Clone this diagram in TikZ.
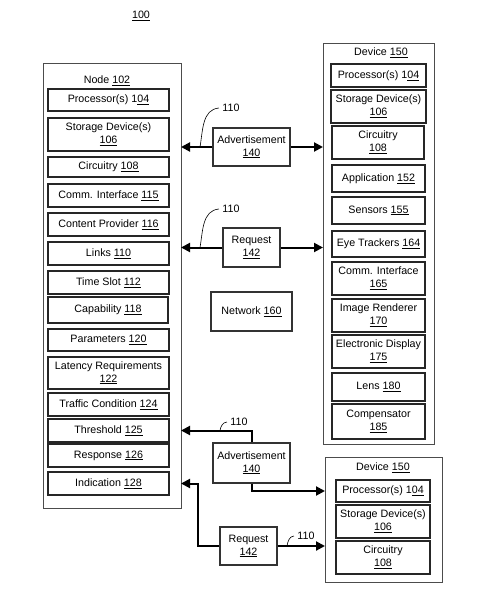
\documentclass[tikz,border=0pt]{standalone}
\usepackage{fontspec}
\setmainfont{Liberation Sans}
\usetikzlibrary{arrows.meta}

\begin{document}
\begin{tikzpicture}[x=1bp,y=1bp,
		font=\fontsize{10.7bp}{12.7bp}\selectfont,
		outer/.style={draw=black!70, line width=1bp},
		inbox/.style={draw=black!85, line width=1.1bp, inner sep=0pt, align=center},
		lbox/.style={inbox, minimum width=121bp},
		rbox/.style={inbox, minimum width=95bp},
		msg/.style={inbox, draw=black!80},
		link/.style={line width=2bp, -{Triangle[length=9bp,width=9bp]}},
		callout/.style={line width=0.6bp}]
		\useasboundingbox (0,0) rectangle (496,-598);
		\node (title) at (141,-16) {\underline{100}};
		% node 102
		\draw [outer] (43,-64) rectangle (181,-508);
		\coordinate (nodeE) at (181,-286);
		\node (nodelbl) at (107,-81) {Node \underline{102}};
		\node [lbox, minimum height=22bp] (n104) at (108.5,-100) {Processor(s) 1\underline{04}};
		\node [lbox, minimum height=33bp] (n106) at (108.5,-134.5) {Storage Device(s)\\\underline{106}};
		\node [lbox, minimum height=20bp] (n108) at (108.5,-167) {Circuitry \underline{108}};
		\node [lbox, minimum height=23bp] (n115) at (108.5,-195.5) {Comm. Interface \underline{115}};
		\node [lbox, minimum height=23bp] (n116) at (108.5,-224.5) {Content Provider \underline{116}};
		\node [lbox, minimum height=23bp] (n110) at (108.5,-253.5) {Links \underline{110}};
		\node [lbox, minimum height=23bp] (n112) at (108.5,-282.5) {Time Slot \underline{112}};
		\node [lbox, minimum height=26bp, minimum width=120bp] (n118) at (108,-310) {Capability \underline{118}};
		\node [lbox, minimum height=22bp] (n120) at (108.5,-340) {Parameters \underline{120}};
		\node [lbox, minimum height=32bp] (n122) at (108.5,-373) {Latency Requirements\\\underline{122}};
		\node [lbox, minimum height=23bp] (n124) at (108.5,-404.5) {Traffic Condition \underline{124}};
		\node [lbox, minimum height=23bp] (n125) at (108.5,-430.5) {Threshold \underline{125}};
		\node [lbox, minimum height=23bp] (n126) at (108.5,-455.5) {Response \underline{126}};
		\node [lbox, minimum height=23bp] (n128) at (108.5,-483.5) {Indication \underline{128}};
		% device 150, top
		\draw [outer] (323,-44) rectangle (434,-444);
		\coordinate (devW) at (323,-244);
		\node (devlbl) at (381,-53) {Device \underline{150}};
		\node [rbox, minimum height=23bp] (d104) at (378.5,-75.5) {Processor(s) 1\underline{04}};
		\node [rbox, minimum height=33bp] (d106) at (378.5,-106.5) {Storage Device(s)\\\underline{106}};
		\node [rbox, minimum height=33bp, minimum width=92bp] (d108) at (378,-142.5) {Circuitry\\\underline{108}};
		\node [rbox, minimum height=27bp, minimum width=93bp] (d152) at (378.5,-178.5) {Application \underline{152}};
		\node [rbox, minimum height=27bp, minimum width=93bp] (d155) at (378.5,-210.5) {Sensors \underline{155}};
		\node [rbox, minimum height=26bp, minimum width=93bp] (d164) at (378.5,-244) {Eye Trackers \underline{164}};
		\node [rbox, minimum height=33bp, minimum width=93bp] (d165) at (378.5,-278.5) {Comm. Interface\\\underline{165}};
		\node [rbox, minimum height=33bp, minimum width=93bp] (d170) at (378.5,-315.5) {Image Renderer\\\underline{170}};
		\node [rbox, minimum height=33bp, minimum width=93bp] (d175) at (378.5,-351.5) {Electronic Display\\\underline{175}};
		\node [rbox, minimum height=28bp, minimum width=93bp] (d180) at (378.5,-387) {Lens \underline{180}};
		\node [rbox, minimum height=35bp, minimum width=93bp] (d185) at (378.5,-421.5) {Compensator\\\underline{185}};
		% device 150, bottom
		\draw [outer] (325,-457) rectangle (442,-582);
		\coordinate (dev2W) at (325,-520);
		\node (dev2lbl) at (383,-468) {Device \underline{150}};
		\node [rbox, minimum height=22bp, minimum width=94bp] (e104) at (383,-491) {Processor(s) 1\underline{04}};
		\node [rbox, minimum height=33bp, minimum width=94bp] (e106) at (383,-521.5) {Storage Device(s)\\\underline{106}};
		\node [rbox, minimum height=33bp, minimum width=94bp] (e108) at (383,-557.5) {Circuitry\\\underline{108}};
		% messages
		\node [msg, minimum width=77bp, minimum height=38bp] (adv1) at (251.5,-147) {Advertisement\\\underline{140}};
		\node [msg, minimum width=57bp, minimum height=39bp] (req1) at (251.5,-247.5) {Request\\\underline{142}};
		\node [msg, minimum width=81bp, minimum height=39bp] (net) at (251.5,-311.5) {Network \underline{160}};
		\node [msg, minimum width=77bp, minimum height=40bp] (adv2) at (251.5,-463) {Advertisement\\\underline{140}};
		\node [msg, minimum width=57bp, minimum height=38bp] (req2) at (248.5,-546) {Request\\\underline{142}};
		\draw [link] (adv1.west) -- (adv1 -| nodeE);
		\draw [link] (adv1.east) -- (adv1 -| devW);
		\draw [link] (req1.west) -- (req1 -| nodeE);
		\draw [link] (req1.east) -- (req1 -| devW);
		\draw [link] (adv2.north) |- (n125 -| nodeE);
		\draw [link] (adv2.south) |- (e104 -| dev2W);
		\draw [link] (req2.west) -- ++(-21,0) |- (n128 -| nodeE);
		\draw [link] (req2.east) -- (req2 -| dev2W);
		% link labels
		\node (l1) at (231,-108) {110};
		\node (l2) at (231,-209) {110};
		\node (l3) at (239,-422) {110};
		\node (l4) at (306,-536) {110};
		\coordinate (c1) at (200,-147);
		\coordinate (c2) at (200,-247.5);
		\coordinate (c3) at (220,-430.5);
		\coordinate (c4) at (287,-546);
		\draw [callout] (c1) to[out=80,in=185] (l1.west);
		\draw [callout] (c2) to[out=80,in=185] (l2.west);
		\draw [callout] (c3) to[out=80,in=185] (l3.west);
		\draw [callout] (c4) to[out=80,in=185] (l4.west);
		\end{tikzpicture}
\end{document}
